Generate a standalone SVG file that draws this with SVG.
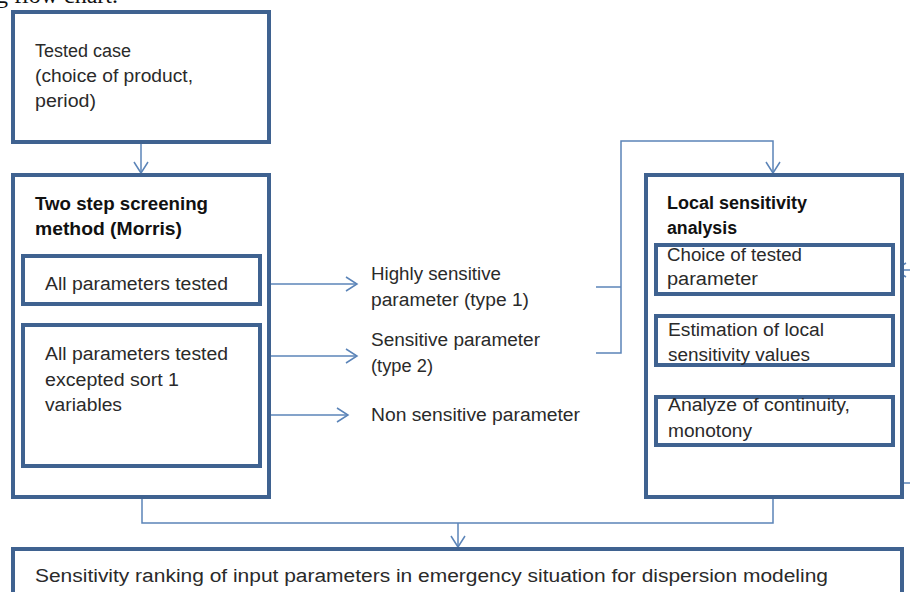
<svg xmlns="http://www.w3.org/2000/svg" width="910" height="592" viewBox="0 0 910 592">
<defs>
<marker id="arr" markerUnits="userSpaceOnUse" markerWidth="14" markerHeight="16" refX="12" refY="8" orient="auto">
<path d="M1,1 L12,8 L1,15" fill="none" stroke="#5b84b8" stroke-width="1.5"/>
</marker>
<style>
.box{fill:#fff;stroke:#3f6290;stroke-width:4}
.ln{fill:none;stroke:#5b84b8;stroke-width:1.5}
.t{font-family:"Liberation Sans",Arial,sans-serif;font-size:18px;fill:#2a2a2a}
.b{font-family:"Liberation Sans",Arial,sans-serif;font-size:18px;font-weight:bold;fill:#111}
.cap{font-family:"Liberation Serif","Times New Roman",serif;font-size:24px;fill:#111}
</style>
</defs>
<rect width="910" height="592" fill="#fff"/>
<text class="cap" x="-4" y="3">g flow chart.</text>

<g id="connectors">
<line class="ln" x1="141" y1="144" x2="141" y2="173" marker-end="url(#arr)"/>
<line class="ln" x1="271" y1="284" x2="357" y2="284" marker-end="url(#arr)"/>
<line class="ln" x1="271" y1="356" x2="357" y2="356" marker-end="url(#arr)"/>
<line class="ln" x1="271" y1="415" x2="348" y2="415" marker-end="url(#arr)"/>
<polyline class="ln" points="596,287 621,287"/>
<polyline class="ln" points="596,353 621,353 621,141 773,141 773,173" marker-end="url(#arr)"/>
<line class="ln" x1="910" y1="270" x2="895" y2="270" marker-end="url(#arr)"/>
<polyline class="ln" points="773,452 773,483 910,483"/>
<polyline class="ln" points="142,499 142,523 773,523 773,499"/>
<line class="ln" x1="458" y1="523" x2="458" y2="547" marker-end="url(#arr)"/>
</g>

<g id="tested-case">
<rect class="box" x="13" y="12" width="256" height="130"/>
<text class="t" x="35" y="57" textLength="96" lengthAdjust="spacingAndGlyphs">Tested case</text>
<text class="t" x="35" y="82" textLength="158" lengthAdjust="spacingAndGlyphs">(choice of product,</text>
<text class="t" x="35" y="107" textLength="61" lengthAdjust="spacingAndGlyphs">period)</text>
</g>

<g id="screening">
<rect class="box" x="13" y="175" width="256" height="322"/>
<text class="b" x="35" y="210" textLength="173" lengthAdjust="spacingAndGlyphs">Two step  screening</text>
<text class="b" x="35" y="235" textLength="147" lengthAdjust="spacingAndGlyphs">method (Morris)</text>
</g>

<g id="all-params">
<rect class="box" x="23" y="256" width="237" height="48"/>
<text class="t" x="45" y="290" textLength="183" lengthAdjust="spacingAndGlyphs">All parameters tested</text>
</g>

<g id="all-params-except">
<rect class="box" x="23" y="325" width="237" height="141"/>
<text class="t" x="45" y="360" textLength="183" lengthAdjust="spacingAndGlyphs">All parameters tested</text>
<text class="t" x="45" y="386" textLength="134" lengthAdjust="spacingAndGlyphs">excepted  sort 1</text>
<text class="t" x="45" y="411" textLength="77" lengthAdjust="spacingAndGlyphs">variables</text>
</g>

<g id="highly-sensitive">
<text class="t" x="371" y="280" textLength="130" lengthAdjust="spacingAndGlyphs">Highly sensitive</text>
<text class="t" x="371" y="306" textLength="158" lengthAdjust="spacingAndGlyphs">parameter (type 1)</text>
</g>

<g id="sensitive">
<text class="t" x="371" y="346" textLength="169" lengthAdjust="spacingAndGlyphs">Sensitive parameter</text>
<text class="t" x="371" y="372" textLength="62" lengthAdjust="spacingAndGlyphs">(type 2)</text>
</g>

<g id="non-sensitive">
<text class="t" x="371" y="421" textLength="209" lengthAdjust="spacingAndGlyphs">Non sensitive parameter</text>
</g>

<g id="local-analysis">
<rect class="box" x="646" y="175" width="256" height="322"/>
<text class="b" x="667" y="209" textLength="140" lengthAdjust="spacingAndGlyphs">Local sensitivity</text>
<text class="b" x="667" y="234" textLength="70" lengthAdjust="spacingAndGlyphs">analysis</text>
</g>

<g id="choice-param">
<rect class="box" x="656" y="245" width="237" height="49"/>
<text class="t" x="667" y="261" textLength="135" lengthAdjust="spacingAndGlyphs">Choice of tested</text>
<text class="t" x="667" y="285" textLength="91" lengthAdjust="spacingAndGlyphs">parameter</text>
</g>

<g id="estimation">
<rect class="box" x="656" y="316" width="237" height="49"/>
<text class="t" x="668" y="336" textLength="156" lengthAdjust="spacingAndGlyphs">Estimation of local</text>
<text class="t" x="668" y="361" textLength="142" lengthAdjust="spacingAndGlyphs">sensitivity values</text>
</g>

<g id="analyze">
<rect class="box" x="656" y="397" width="237" height="48"/>
<text class="t" x="668" y="411" textLength="182" lengthAdjust="spacingAndGlyphs">Analyze of  continuity,</text>
<text class="t" x="668" y="437" textLength="84" lengthAdjust="spacingAndGlyphs">monotony</text>
</g>

<g id="ranking">
<rect class="box" x="13" y="549" width="889" height="60"/>
<text class="t" x="35" y="582" textLength="793" lengthAdjust="spacingAndGlyphs">Sensitivity ranking of input parameters in emergency situation for dispersion modeling</text>
</g>
</svg>
